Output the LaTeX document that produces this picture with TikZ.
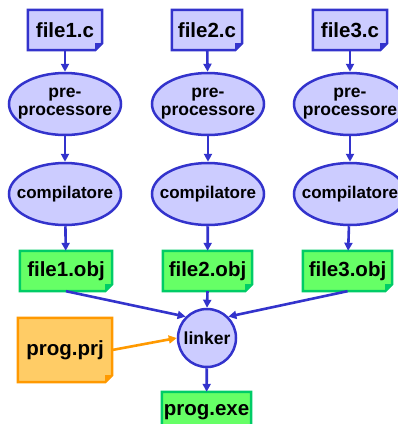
\documentclass[tikz,border=0pt]{standalone}
\usepackage{fontspec}
\setmainfont{Liberation Sans}
\usetikzlibrary{arrows.meta,shapes.geometric,backgrounds}
\definecolor{bfill}{HTML}{CCCCFF}
\definecolor{bline}{HTML}{3333CC}
\definecolor{gfill}{HTML}{66FF66}
\definecolor{gline}{HTML}{00CC66}
\definecolor{ofill}{HTML}{FFCC66}
\definecolor{oline}{HTML}{FF9900}
\newcommand\dogear[3]{%
  \draw[#3, line width=2.5pt, fill=#2, line join=miter]
    (#1.north west) -- (#1.north east) -- ([yshift=7pt]#1.south east)
    -- ([xshift=-7pt]#1.south east) -- (#1.south west) -- cycle;
  \fill[#3] ([yshift=7pt]#1.south east) -- ([xshift=-7pt]#1.south east)
    -- ([xshift=-7pt,yshift=7pt]#1.south east) -- cycle;
}
\tikzset{
  filebox/.style={rectangle, inner sep=0pt, minimum height=40pt,
    font=\fontsize{20.5}{22}\selectfont\bfseries},
  procfont/.style={font=\fontsize{17.5}{18}\selectfont\bfseries, align=center},
  procell/.style={ellipse, draw=bline, fill=bfill, line width=2.5pt,
    minimum width=112pt, minimum height=62pt, inner sep=0pt},
  link/.style={draw=bline, line width=2.6pt, -{Triangle[length=8pt,width=8pt]}},
  olink/.style={draw=oline, line width=2.6pt, -{Triangle[length=8pt,width=8pt]}}
}
\begin{document}
\begin{tikzpicture}[x=1pt,y=-1pt]
\useasboundingbox (0,0) rectangle (398,424);
\clip (0,0) rectangle (398,424);
\node[filebox, minimum width=74pt] (f1c) at (65,30) {file1.c};
\node[filebox, minimum width=70pt] (f2c) at (207,30) {file2.c};
\node[filebox, minimum width=74pt] (f3c) at (350,30) {file3.c};
\node[procell, label={[procfont]center:pre-\\processore}] (pp1) at (65,104) {};
\node[procell, label={[procfont]center:pre-\\processore}] (pp2) at (208,104) {};
\node[procell, label={[procfont]center:pre-\\processore}] (pp3) at (350,104) {};
\node[procell, label={[procfont,font=\fontsize{17}{18}\selectfont\bfseries]center:compilatore}] (cc1) at (65,194) {};
\node[procell, label={[procfont,font=\fontsize{17}{18}\selectfont\bfseries]center:compilatore}] (cc2) at (208,194) {};
\node[procell, label={[procfont,font=\fontsize{17}{18}\selectfont\bfseries]center:compilatore}] (cc3) at (350,194) {};
\node[filebox, minimum width=92pt] (o1) at (66,271) {file1.obj};
\node[filebox, minimum width=89pt] (o2) at (207.5,271) {file2.obj};
\node[filebox, minimum width=89pt] (o3) at (347.5,271) {file3.obj};
\node[circle, draw=bline, fill=bfill, line width=2.5pt, minimum size=58pt,
  inner sep=0pt, font=\fontsize{17.5}{18}\selectfont\bfseries] (lk) at (207,338) {linker};
\node[filebox, minimum width=94pt, minimum height=64pt] (prj) at (65,350) {prog.prj};
\node[filebox, minimum width=89pt] (exe) at (206.5,412) {prog.exe};
\begin{pgfonlayer}{background}
\dogear{f1c}{bfill}{bline}
\dogear{f2c}{bfill}{bline}
\dogear{f3c}{bfill}{bline}
\dogear{o1}{gfill}{gline}
\dogear{o2}{gfill}{gline}
\dogear{o3}{gfill}{gline}
\dogear{prj}{ofill}{oline}
\dogear{exe}{gfill}{gline}
\end{pgfonlayer}
\foreach \i in {1,2,3} {
  \draw[link] (f\i c) -- (pp\i);
  \draw[link] (pp\i) -- (cc\i);
  \draw[link] (cc\i) -- (o\i);
}
\draw[link] (o1.south) -- (lk.135);
\draw[link] (o2.south) -- (lk.north);
\draw[link] (o3.south) -- (lk.45);
\draw[olink] (prj.east) -- (lk.west);
\draw[link] (lk) -- (exe);
\end{tikzpicture}
\end{document}
